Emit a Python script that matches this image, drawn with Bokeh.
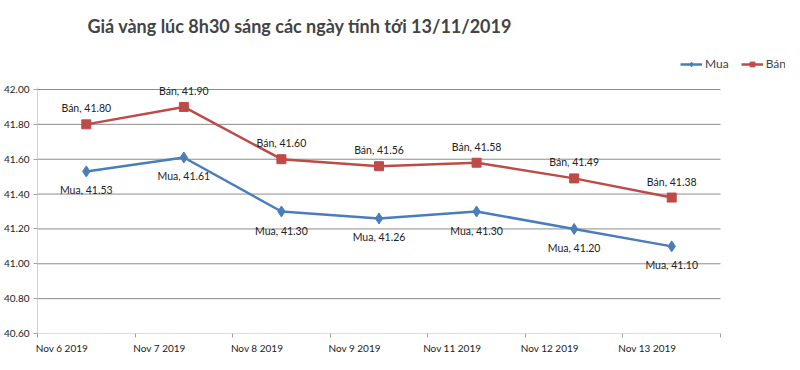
from bokeh.plotting import figure
from bokeh.models import Range1d, FixedTicker, Legend, LegendItem, ColumnDataSource
from bokeh.core.properties import value
from bokeh.embed import file_html
from bokeh.resources import INLINE

categories = ["Nov 6 2019", "Nov 7 2019", "Nov 8 2019", "Nov 9 2019",
              "Nov 11 2019", "Nov 12 2019", "Nov 13 2019"]
mua = [41.53, 41.61, 41.30, 41.26, 41.30, 41.20, 41.10]
ban = [41.80, 41.90, 41.60, 41.56, 41.58, 41.49, 41.38]
y_ticks = [40.6, 40.8, 41.0, 41.2, 41.4, 41.6, 41.8, 42.0]

FONT = "Lato"
BLUE = "#4A7EBB"
RED = "#BE4B48"
GRID = "#8c8c8c"

n = len(categories)
xs = [i + 0.5 for i in range(n)]
y0, y1 = y_ticks[0], y_ticks[-1]

# frame extends beyond the plot box so that the legend (outside the box) is not clipped
plot_w, extra_r = 683, 65
plot_h, extra_t = 244, 40
x_end = n * (plot_w + extra_r) / plot_w
y_end = y1 + (y1 - y0) * extra_t / plot_h

p = figure(frame_width=plot_w + extra_r, frame_height=plot_h + extra_t,
           output_backend="svg", toolbar_location=None,
           x_range=Range1d(0, x_end), y_range=Range1d(y0, y_end),
           min_border_left=34, min_border_right=2, min_border_top=10, min_border_bottom=0)

p.title.text = "Giá vàng lúc 8h30 sáng các ngày tính tới 13/11/2019"
p.title.text_font = FONT
p.title.text_font_size = "18px"
p.title.text_font_style = "bold"
p.title.offset = 50
p.title.standoff = 25
p.outline_line_color = None
p.background_fill_color = "white"
p.border_fill_color = "white"

# x axis
p.xaxis.ticker = FixedTicker(ticks=[i + 0.25 for i in range(n)], minor_ticks=list(range(n + 1)))
p.xaxis.major_label_overrides = {i + 0.25: c for i, c in enumerate(categories)}
p.xaxis.major_tick_line_color = None
p.xaxis.major_tick_out = 0
p.xaxis.major_tick_in = 0
p.xaxis.minor_tick_line_color = "#a0a0a0"
p.xaxis.minor_tick_out = 4
p.xaxis.minor_tick_in = 0
p.xaxis.axis_line_color = None
p.xaxis.major_label_text_font = FONT
p.xaxis.major_label_text_font_size = "10px"
p.xaxis.major_label_text_color = "#222222"
p.xaxis.major_label_standoff = 4

# y axis
p.yaxis.ticker = FixedTicker(ticks=y_ticks)
p.yaxis.major_label_overrides = {t: f"{t:.2f}" for t in y_ticks}
p.yaxis.axis_line_color = None
p.yaxis.major_tick_line_color = "#a6a6a6"
p.yaxis.major_tick_out = 4
p.yaxis.major_tick_in = 0
p.yaxis.minor_tick_line_color = None
p.yaxis.major_label_text_font = FONT
p.yaxis.major_label_text_font_size = "10px"
p.yaxis.major_label_text_color = "#222222"
p.yaxis.major_label_standoff = 4

p.xgrid.grid_line_color = None
p.ygrid.grid_line_color = None

# gridlines and axis lines limited to the plot box
p.segment(x0=[0] * (len(y_ticks) - 1), x1=[n] * (len(y_ticks) - 1),
          y0=y_ticks[1:], y1=y_ticks[1:], line_color=GRID, line_width=1)
p.segment(x0=[0], x1=[n], y0=[y0], y1=[y0], line_color="#7FD3D0", line_width=1)
p.segment(x0=[0], x1=[0], y0=[y0], y1=[y1 + 0.012], line_color="#a6a6a6", line_width=1)

src = ColumnDataSource(dict(x=xs, mua=mua, ban=ban,
                            mua_lbl=[f"Mua, {v:.2f}" for v in mua],
                            ban_lbl=[f"Bán, {v:.2f}" for v in ban]))

l1 = p.line("x", "mua", source=src, line_color=BLUE, line_width=2.5)
m1 = p.scatter("x", "mua", source=src, marker="diamond", size=11, fill_color=BLUE, line_color=BLUE)
l2 = p.line("x", "ban", source=src, line_color=RED, line_width=2.5)
m2 = p.scatter("x", "ban", source=src, marker="square", size=9, fill_color=RED, line_color=RED)

p.text("x", "ban", text="ban_lbl", source=src, text_font=value(FONT), text_font_size="10.5px",
       text_align="center", text_baseline="middle", y_offset=-16, text_color="#222222")
p.text("x", "mua", text="mua_lbl", source=src, text_font=value(FONT), text_font_size="10.5px",
       text_align="center", text_baseline="middle", y_offset=19, text_color="#222222")

legend = Legend(items=[LegendItem(label="Mua", renderers=[l1, m1]),
                       LegendItem(label="Bán", renderers=[l2, m2])],
                orientation="horizontal", location=(643, 262),
                label_text_font=FONT, label_text_font_size="12px",
                glyph_width=22, glyph_height=12, spacing=12, padding=0, margin=0,
                label_standoff=3, border_line_color=None, background_fill_alpha=0)
p.add_layout(legend, "center")

open("out.html", "w").write(file_html(p, INLINE))
